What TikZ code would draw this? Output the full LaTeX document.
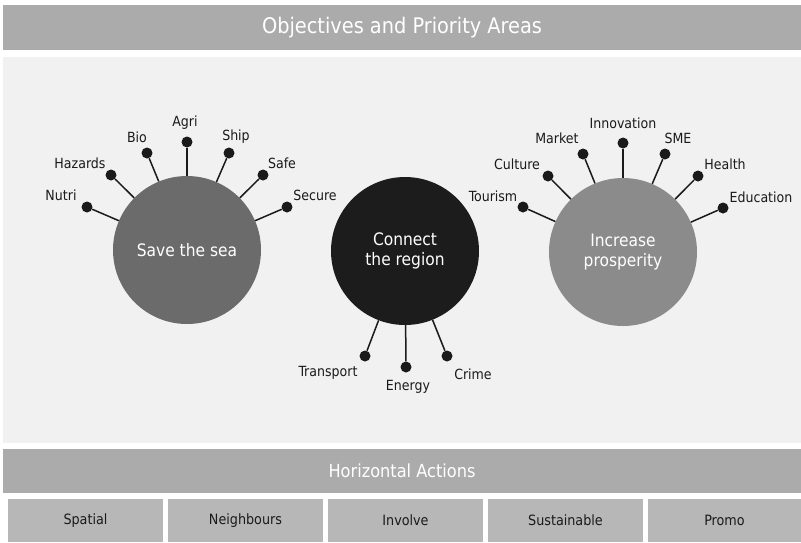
\documentclass[tikz,border=0pt]{standalone}
\usepackage{fontspec}
\setmainfont{DejaVu Sans Condensed}
\definecolor{barcol}{HTML}{ABABAB}
\definecolor{boxcol}{HTML}{B7B7B7}
\definecolor{panelcol}{HTML}{F1F1F1}
\definecolor{seacol}{HTML}{6B6B6B}
\definecolor{regcol}{HTML}{1C1C1C}
\definecolor{procol}{HTML}{8B8B8B}
\definecolor{inkcol}{HTML}{1A1A1A}
\begin{document}
\begin{tikzpicture}[x=1pt,y=-1pt,
  barbox/.style={fill=barcol, draw=none, inner sep=0pt, text=white},
  actbox/.style={fill=boxcol, draw=none, inner sep=0pt, text=inkcol, minimum height=43pt,
    font=\fontsize{14.2}{16}\selectfont},
  bigcircle/.style={circle, draw=none, minimum size=148pt, inner sep=0pt, text=white,
    align=center, font=\fontsize{17.2}{20.5}\selectfont},
  dot/.style={circle, fill=inkcol, draw=none, minimum size=11pt, inner sep=0pt},
  lbl/.style={text=inkcol, inner sep=0pt, font=\fontsize{14}{16}\selectfont},
  spoke/.style={draw=inkcol, line width=1.5pt}
]
\useasboundingbox (0,0) rectangle (801,542);
\fill[white] (0,0) rectangle (801,542);

% bars and panel
\node[barbox, minimum width=798pt, minimum height=45pt, font=\fontsize{21.5}{24}\selectfont] (top) at (402,27.5) {Objectives and Priority Areas};
\node[fill=panelcol, draw=none, minimum width=798pt, minimum height=386pt, inner sep=0pt] (panel) at (402,250) {};
\node[barbox, minimum width=798pt, minimum height=44pt, font=\fontsize{18}{20}\selectfont] (hor) at (402,471) {Horizontal Actions};

% action boxes
\node[actbox, minimum width=155pt] (b1) at (85.5,520.5) {Spatial};
\node[actbox, minimum width=155pt] (b2) at (245.5,520.5) {Neighbours};
\node[actbox, minimum width=155pt] (b3) at (405.5,520.5) {Involve};
\node[actbox, minimum width=155pt] (b4) at (565.5,520.5) {Sustainable};
\node[actbox, minimum width=153pt] (b5) at (724.5,520.5) {Promo};

% circles
\node[bigcircle, fill=seacol] (sea) at (187,250) {Save the sea};
\node[bigcircle, fill=regcol] (reg) at (405,251) {Connect\\the region};
\node[bigcircle, fill=procol] (pro) at (623,252) {Increase\\prosperity};

% Save the sea spokes
\node[dot] (d1) at (87,207) {};
\node[dot] (d2) at (111,175) {};
\node[dot] (d3) at (147,153) {};
\node[dot] (d4) at (187,142) {};
\node[dot] (d5) at (229,153) {};
\node[dot] (d6) at (263,175) {};
\node[dot] (d7) at (287,207) {};
\foreach \d in {d1,d2,d3,d4,d5,d6,d7} \draw[spoke] (\d) -- (sea);
\node[lbl] (l1) at (61,195) {Nutri};
\node[lbl] (l2) at (80,163) {Hazards};
\node[lbl] (l3) at (137,137) {Bio};
\node[lbl] (l4) at (185,123) {Agri};
\node[lbl] (l5) at (236,137) {Ship};
\node[lbl] (l6) at (282,163) {Safe};
\node[lbl] (l7) at (315,195) {Secure};

% Connect the region spokes
\node[dot] (e1) at (365,356) {};
\node[dot] (e2) at (406,367) {};
\node[dot] (e3) at (447,356) {};
\foreach \d in {e1,e2,e3} \draw[spoke] (\d) -- (reg);
\node[lbl] (m1) at (328,373) {Transport};
\node[lbl] (m2) at (408,387) {Energy};
\node[lbl] (m3) at (473,374) {Crime};

% Increase prosperity spokes
\node[dot] (f1) at (523,207) {};
\node[dot] (f2) at (548,176) {};
\node[dot] (f3) at (583,154) {};
\node[dot] (f4) at (623,143) {};
\node[dot] (f5) at (665,154) {};
\node[dot] (f6) at (698,176) {};
\node[dot] (f7) at (723,208) {};
\foreach \d in {f1,f2,f3,f4,f5,f6,f7} \draw[spoke] (\d) -- (pro);
\node[lbl] (n1) at (493,196) {Tourism};
\node[lbl] (n2) at (517,164) {Culture};
\node[lbl] (n3) at (557,138) {Market};
\node[lbl] (n4) at (623,123) {Innovation};
\node[lbl] (n5) at (678,138) {SME};
\node[lbl] (n6) at (725,164) {Health};
\node[lbl] (n7) at (761,197) {Education};
\end{tikzpicture}
\end{document}
